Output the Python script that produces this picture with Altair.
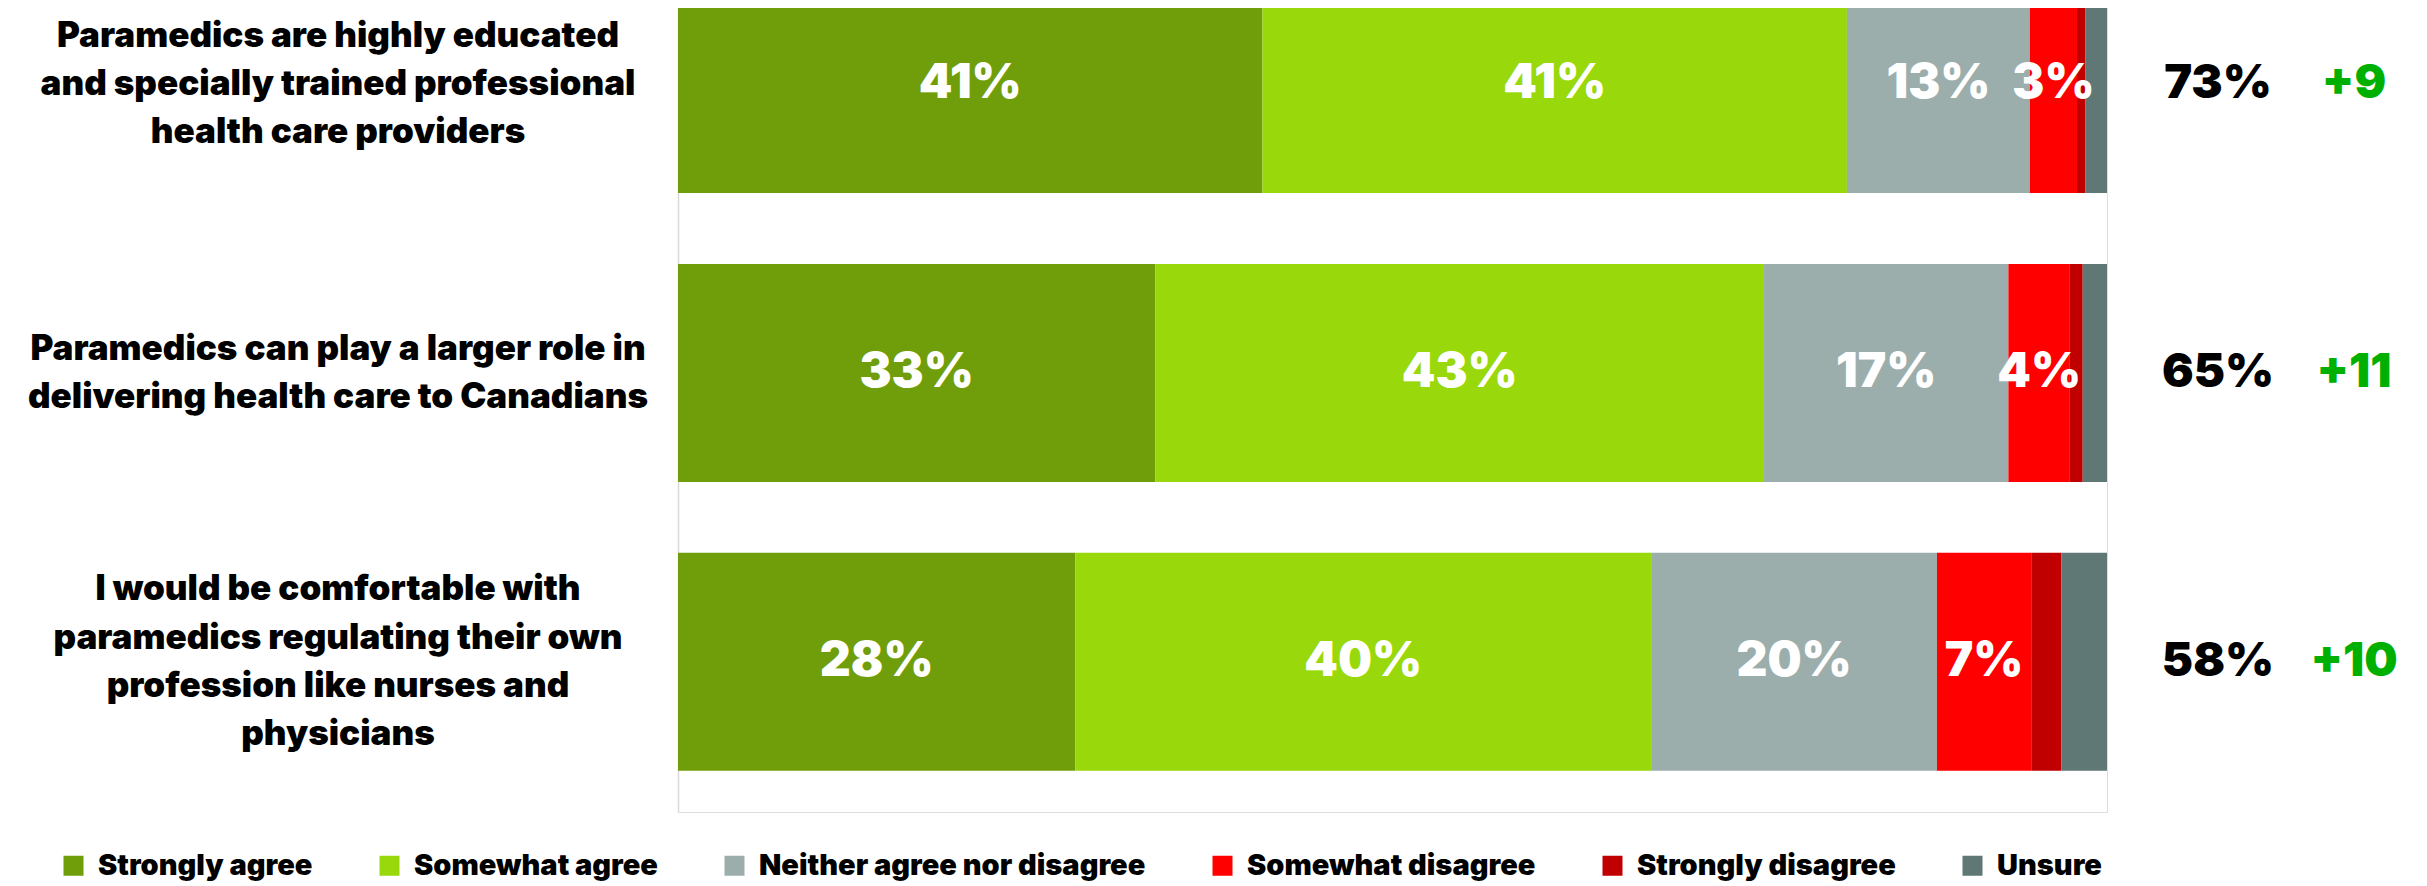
import altair as alt
import pandas as pd

# ---------------- data ----------------
questions = [
    ["Paramedics are highly educated", "and specially trained professional", "health care providers"],
    ["Paramedics can play a larger role in", "delivering health care to Canadians"],
    ["I would be comfortable with", "paramedics regulating their own", "profession like nurses and", "physicians"],
]
categories = ["Strongly agree", "Somewhat agree", "Neither agree nor disagree",
              "Somewhat disagree", "Strongly disagree", "Unsure"]
strongly_agree = [40.9, 33.4, 27.8]
somewhat_agree = [40.9, 42.6, 40.3]
neither = [12.8, 17.1, 20.0]
somewhat_disagree = [3.3, 4.3, 6.6]
strongly_disagree = [0.6, 0.9, 2.1]
unsure = [1.5, 1.7, 3.2]
previous_total = [73, 65, 58]
change = [9, 11, 10]

colors = ["#6f9e0a", "#99d80b", "#9caeac", "#ff0000", "#c00000", "#5f7775"]

series = [strongly_agree, somewhat_agree, neither, somewhat_disagree, strongly_disagree, unsure]
rows = []
for qi in range(len(questions)):
    for ci, cat in enumerate(categories):
        rows.append({"idx": qi, "category": cat, "order": ci, "value": series[ci][qi]})
long_df = pd.DataFrame(rows)

line_rows = []
for qi, lines in enumerate(questions):
    for li, txt in enumerate(lines):
        line_rows.append({"idx": qi, "line_no": li, "n_lines": len(lines), "text": txt})
lines_df = pd.DataFrame(line_rows)

q_df = pd.DataFrame({
    "idx": list(range(len(questions))),
    "prev": previous_total,
    "change": change,
})

FONT = "Inter, Lato, sans-serif"
LINE_STEP = 0.1670  # one text line (about 49 px) in y-scale units

yscale = alt.Scale(domain=[-0.246, 2.503], reverse=True, nice=False, zero=False)
xscale = alt.Scale(domain=[0, 100], nice=False, zero=True)

y_axis = alt.Axis(labels=False, ticks=False, grid=False, title=None,
                  domainColor="#d9d9d9", domainWidth=1.5)
y_enc = alt.Y("idx:Q", scale=yscale, axis=y_axis)

base = alt.Chart(long_df).transform_stack(
    stack="value", groupby=["idx"], as_=["x0", "x1"],
    sort=[alt.SortField("order", order="ascending")], offset="zero"
)

bars = base.mark_bar(orient="horizontal", size=218, clip=True).encode(
    x=alt.X("x0:Q", scale=xscale, axis=None),
    x2="x1:Q",
    y=y_enc,
    color=alt.Color(
        "category:N",
        scale=alt.Scale(domain=categories, range=colors),
        legend=alt.Legend(
            orient="none", legendX=-619, legendY=843, direction="horizontal",
            columns=6, title=None, symbolType="square", symbolSize=400,
            symbolStrokeWidth=0, labelFontSize=29, labelFont=FONT,
            labelFontWeight=900, labelColor="black", columnPadding=62,
            labelOffset=10, labelLimit=0, padding=0,
        ),
    ),
)

bar_labels = base.transform_calculate(
    mid="(datum.x0 + datum.x1) / 2",
    label="format(datum.value, '.0f') + '%'",
).transform_filter(
    "datum.value >= 3 && datum.category != 'Unsure'"
).mark_text(
    color="white", fontSize=48, font=FONT, fontWeight=900,
    align="center", baseline="middle",
).encode(
    x=alt.X("mid:Q", scale=xscale, axis=None),
    y=y_enc,
    text="label:N",
)

left_labels = alt.Chart(lines_df).transform_calculate(
    ypos=f"datum.idx + (datum.line_no - (datum.n_lines - 1) / 2) * {LINE_STEP}"
).mark_text(
    align="center", baseline="middle", fontSize=35,
    font=FONT, fontWeight=900, color="black",
).encode(
    x=alt.value(-340),
    y=alt.Y("ypos:Q", scale=yscale, axis=y_axis),
    text="text:N",
)

qbase = alt.Chart(q_df)

prev_labels = qbase.transform_calculate(
    t="datum.prev + '%'"
).mark_text(
    align="center", baseline="middle", fontSize=47, font=FONT,
    fontWeight=900, color="black",
).encode(
    x=alt.value(1540),
    y=y_enc,
    text="t:N",
)

change_labels = qbase.transform_calculate(
    t="'+' + datum.change"
).mark_text(
    align="center", baseline="middle", fontSize=47, font=FONT,
    fontWeight=900, color="#00b000",
).encode(
    x=alt.value(1676),
    y=y_enc,
    text="t:N",
)

chart = alt.layer(bars, bar_labels, left_labels, prev_labels, change_labels).properties(
    width=1429, height=804,
    padding={"left": 670, "top": 0, "right": 292, "bottom": 76},
    autosize=alt.AutoSizeParams(type="none"),
).configure_view(stroke=None).configure(background="white")

chart.save("out.html", embed_options={"renderer": "svg", "actions": False})
